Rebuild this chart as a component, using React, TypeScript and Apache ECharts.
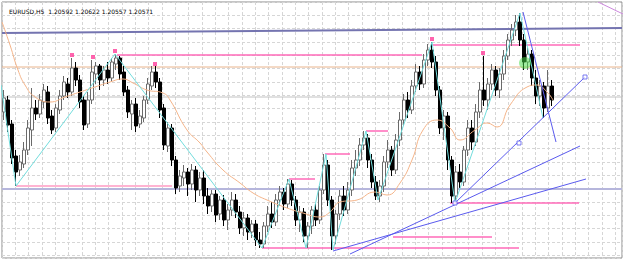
import React, { useEffect, useRef } from "react";
import * as echarts from "echarts";

const TITLE = "EURUSD,H5  1.20592 1.20622 1.20557 1.20571";
const SLOT_COUNT = 155;

// [open, close, low, high] in chart points
const candles: number[][] = [
  [148,162,140,170],[160,135,128,164],[136,102,96,140],[104,88,74,110],[90,98,84,105],
  [96,110,92,118],[110,132,105,140],[130,152,114,172],[152,146,140,160],[146,160,142,166],
  [158,170,152,176],[168,142,136,174],[144,130,126,150],[132,152,128,156],[150,164,146,170],
  [164,178,160,184],[176,168,162,182],[168,192,164,202],[192,180,174,198],[180,158,152,185],
  [160,135,130,164],[136,160,132,168],[160,188,156,200],[186,194,176,198],[194,180,170,196],
  [180,190,174,194],[190,182,176,198],[182,198,178,202],[196,202,190,206],[202,186,180,204],
  [188,168,164,194],[170,148,142,174],[146,156,130,160],[156,134,128,162],[136,144,132,150],
  [142,160,138,164],[160,176,156,182],[174,188,170,194],[188,178,172,194],[178,150,142,182],
  [152,115,110,156],[114,132,108,138],[132,100,94,136],[100,72,66,104],[74,84,68,90],
  [82,88,74,95],[88,76,64,92],[76,90,70,96],[90,70,58,94],[70,82,64,88],
  [82,64,56,90],[64,54,46,72],[54,66,48,70],[66,45,38,70],[46,60,40,64],
  [60,40,34,65],[40,50,30,56],[50,60,44,68],[60,48,42,66],[48,32,26,54],
  [32,42,24,48],[42,28,20,46],[28,36,22,40],[36,20,14,40],[20,16,12,28],
  [16,34,12,38],[34,46,28,54],[46,38,32,58],[38,60,34,66],[60,68,54,74],
  [68,56,50,72],[56,76,52,81],[76,60,54,80],[60,40,34,64],[40,48,28,54],
  [48,24,18,52],[24,34,12,38],[34,50,26,54],[50,40,34,56],[40,70,36,74],
  [70,95,66,106],[95,60,54,100],[60,24,10,64],[24,46,16,50],[46,64,40,70],
  [64,50,44,74],[50,70,46,78],[70,92,64,100],[92,100,84,110],[100,115,94,122],
  [115,122,110,129],[122,100,92,126],[100,78,72,106],[78,64,60,84],[64,74,58,80],
  [74,98,68,104],[98,110,92,120],[110,90,84,114],[90,120,86,126],[120,140,114,148],
  [140,160,134,166],[160,150,142,168],[150,174,146,180],[174,188,168,196],[188,176,170,194],
  [176,200,172,206],[200,210,194,216],[210,198,192,218],[198,170,164,204],[170,132,126,174],
  [132,144,120,150],[144,100,90,148],[100,64,57,104],[64,88,60,94],[88,78,72,96],
  [78,110,74,114],[110,132,104,140],[132,118,110,140],[118,148,114,156],[148,170,142,178],
  [170,160,154,204],[160,176,150,182],[176,190,170,196],[190,170,164,194],[170,186,162,192],
  [186,204,180,210],[204,220,200,226],[220,230,214,236],[230,238,224,245],[238,220,214,247],
  [220,198,190,226],[198,206,190,212],[206,182,174,210],[182,164,156,190],[164,174,154,180],
  [174,152,142,178],[152,174,148,190],[174,160,154,180],
];

// zigzag vertices [bar index, value]
const zigzag: number[][] = [
  [-0.75,175],[3,74],[27.75,206],[64.5,12],[71.25,81],[75.5,12],[80.5,106],[82.25,10],
  [90.5,129],[93.5,60],[107,218],[112.75,57],[129,247],[134.75,142],
];

// moving average [bar index, value]
const movingAverage: number[][] = [
  [-0.5,238],[1.5,215],[3.5,190],[5.25,175],[7.75,163],[11.5,158],[15.25,163],[19,168],
  [22.75,173],[26.5,178],[29.75,181],[32.25,177],[35.75,170],[39.75,167],[41.5,160],
  [45.75,130],[49,117],[50.75,108],[54.75,90],[59,77],[62.25,67],[65.75,60],[70.75,52],
  [74.75,47],[79,43],[81.5,48],[84,58],[88.25,60],[92.75,68],[95.75,65],[99,77],
  [102,100],[104.75,130],[108.25,140],[111.5,132],[114,120],[117.75,130],[120.75,137],
  [123.25,133],[126.5,155],[130.75,173],[133.25,175],[135.75,168],[137.25,160],
];

// horizontal levels [from index, to index, value]
const pinkLevels: number[][] = [
  [28.25,104.5,205],[107,144,215],[71.25,77.75,81],[80.25,86.5,106],[90.5,96,129],
  [111.5,143.75,57],[97.25,122,23],[64.5,128.75,12],
];
const lightPinkLevels: number[][] = [[3,42,74]];
const navyLevel: number[][] = [[-0.5,227],[154.5,232]];
const orangeLevel = 193;
const grayLevel = 163;
const lavenderLevel = 71;

// trend lines [[i1,v1],[i2,v2]]
const trendLines: number[][][] = [
  [[112.75,57],[145.25,183]],
  [[86.5,6],[144,114]],
  [[82.25,9],[145.5,81]],
  [[129.75,248],[138,118]],
];
const violetLine: number[][] = [[148.5,258],[154.75,246]];

// peak markers [bar index, value]
const peakMarks: number[][] = [[17,205],[22.25,203],[27.75,209],[37.75,196],[107,221],[119.75,207]];
const greenMark: number[][] = [[130.25,197]];
const trendAnchors: number[][] = [[112.75,57],[128.75,117],[145.25,183]];

export default function App() {
  const ref = useRef<HTMLDivElement>(null);
  useEffect(() => {
    if (!ref.current) return;
    const chart = echarts.init(ref.current, null, { renderer: "svg" });
    const categories = Array.from({ length: SLOT_COUNT }, (_, i) => String(i));
    const seg = (pts: number[][], color: string, width: number, z = 3) => ({
      type: "line",
      xAxisIndex: 1,
      yAxisIndex: 0,
      data: pts,
      symbol: "none",
      silent: true,
      animation: false,
      z,
      lineStyle: { color, width },
    });
    const series: any[] = [];
    series.push(seg([[-0.5, grayLevel], [154.5, grayLevel]], "#c2c2c2", 1, 1));
    series.push(seg([[-0.5, lavenderLevel], [154.5, lavenderLevel]], "#b6b6dc", 2, 1));
    series.push(seg([[-0.5, orangeLevel], [154.5, orangeLevel]], "#e9b48c", 1, 1));
    series.push(seg(navyLevel, "#7474b0", 2, 1));
    lightPinkLevels.forEach((l) => series.push(seg([[l[0], l[2]], [l[1], l[2]]], "#ffb4d2", 2, 1)));
    pinkLevels.forEach((l) => series.push(seg([[l[0], l[2]], [l[1], l[2]]], "#ff6ab8", 1.5, 2)));
    series.push({
      type: "candlestick",
      xAxisIndex: 0,
      yAxisIndex: 0,
      data: candles,
      barWidth: 3,
      z: 4,
      itemStyle: {
        color: "#ffffff",
        color0: "#000000",
        borderColor: "#6a6a6a",
        borderColor0: "#000000",
        borderWidth: 1,
      },
    });
    series.push(seg(movingAverage, "#f4b489", 1, 5));
    series[series.length - 1].smooth = true;
    series.push(seg(zigzag, "#72dcdc", 1, 5));
    trendLines.forEach((t) => series.push(seg(t, "#5a5aee", 1, 6)));
    series.push(seg(violetLine, "#cc88dd", 1, 6));
    series.push({
      type: "scatter", xAxisIndex: 1, yAxisIndex: 0, data: greenMark, symbol: "circle",
      symbolSize: 12, itemStyle: { color: "rgba(70,220,70,0.65)" }, z: 7, silent: true,
    });
    series.push({
      type: "scatter", xAxisIndex: 1, yAxisIndex: 0, data: peakMarks, symbol: "rect",
      symbolSize: 4, itemStyle: { color: "#ff3d9a" }, z: 7, silent: true,
    });
    series.push({
      type: "scatter", xAxisIndex: 1, yAxisIndex: 0, data: trendAnchors, symbol: "rect",
      symbolSize: 4, itemStyle: { color: "#ffffff", borderColor: "#5a5aee", borderWidth: 1 }, z: 7, silent: true,
    });

    chart.setOption({
      animation: false,
      backgroundColor: "#ffffff",
      title: {
        text: TITLE,
        left: 4,
        top: 3,
        textStyle: { fontSize: 6, fontWeight: "normal", fontFamily: "DejaVu Sans", color: "#000000" },
      },
      grid: { left: 2, right: 3, top: 2, bottom: 2, show: true, borderColor: "#8a8a8a", borderWidth: 1, backgroundColor: "#ffffff" },
      xAxis: [
        { type: "category", data: categories, boundaryGap: true, show: false },
        { type: "value", min: -0.5, max: 154.5, show: false },
        {
          type: "value", min: 0, max: 46.5, interval: 1, show: true,
          axisLine: { show: false }, axisTick: { show: false }, axisLabel: { show: false },
          splitLine: { show: true, lineStyle: { color: "#d6d6d6", type: [3, 2], width: 1 } },
        },
      ],
      yAxis: [
        { type: "value", min: 2, max: 258, show: false },
        {
          type: "value", min: 0, max: 19.2, interval: 1, inverse: true, show: true,
          axisLine: { show: false }, axisTick: { show: false }, axisLabel: { show: false },
          splitLine: { show: true, lineStyle: { color: "#d6d6d6", type: [3, 2], width: 1 } },
        },
      ],
      series,
    });
    return () => chart.dispose();
  }, []);
  return <div ref={ref} style={{ position: "fixed", left: 0, top: 0, width: 625, height: 260 }} />;
}
